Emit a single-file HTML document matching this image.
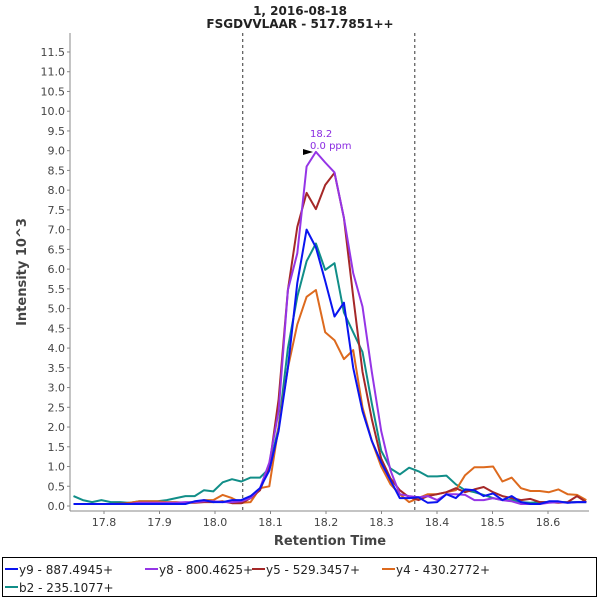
<!DOCTYPE html>
<html><head><meta charset="utf-8"><style>
body{margin:0;background:#fff;font-family:"Liberation Sans","DejaVu Sans",sans-serif}
svg text{font-family:"DejaVu Sans","Liberation Sans",sans-serif}
</style></head><body>
<svg id="chart" width="600" height="600" xmlns="http://www.w3.org/2000/svg">
<rect width="600" height="600" fill="#fff"/>
<text x="300" y="15" text-anchor="middle" font-size="12" font-weight="bold" fill="#222">1, 2016-08-18</text>
<text x="300" y="28" text-anchor="middle" font-size="12" font-weight="bold" fill="#222">FSGDVVLAAR - 517.7851++</text>
<g id="grid"></g>
<g id="series"></g>
<g id="axes"></g>
<text transform="translate(26,272) rotate(-90)" text-anchor="middle" font-size="13" font-weight="bold" fill="#444">Intensity 10^3</text>
<text x="330" y="545" text-anchor="middle" font-size="13" font-weight="bold" fill="#444">Retention Time</text>
<g>
<text x="310" y="137" font-size="10" fill="#8a2be2">18.2</text>
<text x="310" y="149" font-size="10" fill="#8a2be2">0.0 ppm</text>
<polygon points="303,149 313,152 303,155" fill="#000"/>
</g>
<rect x="2.5" y="557.5" width="594" height="39" fill="none" stroke="#000"/>
<g id="legend"></g>
</svg>
<script>
const t0 = 17.745, dt = 0.0168;
const seriesNames = ["y9 - 887.4945+","y8 - 800.4625+","y5 - 529.3457+","y4 - 430.2772+","b2 - 235.1077+"];
const seriesColors = ["#0a14f0","#9535e6","#a52828","#dd6a1e","#118e88"];
const y9 = [0.05,0.05,0.05,0.05,0.05,0.05,0.05,0.05,0.05,0.05,0.05,0.05,0.05,0.12,0.15,0.1,0.1,0.15,0.15,0.25,0.45,0.9,1.9,3.5,5.65,7.0,6.55,5.7,4.8,5.15,3.5,2.4,1.65,1.1,0.65,0.2,0.2,0.22,0.08,0.1,0.3,0.2,0.42,0.4,0.25,0.32,0.15,0.25,0.1,0.05,0.05,0.12,0.12,0.08,0.1,0.1];
const y8 = [0.05,0.05,0.05,0.05,0.05,0.05,0.05,0.08,0.08,0.08,0.08,0.08,0.1,0.1,0.12,0.12,0.1,0.1,0.12,0.2,0.45,1.1,2.4,5.47,6.4,8.6,8.97,8.7,8.45,7.3,5.9,5.05,3.4,1.9,0.9,0.3,0.25,0.22,0.25,0.15,0.3,0.3,0.28,0.15,0.15,0.2,0.15,0.12,0.05,0.05,0.05,0.08,0.1,0.08,0.1,0.1];
const y5 = [0.05,0.05,0.05,0.05,0.05,0.06,0.06,0.08,0.08,0.08,0.06,0.06,0.08,0.08,0.1,0.1,0.12,0.07,0.07,0.2,0.4,1.0,2.7,5.47,7.07,7.93,7.52,8.13,8.44,7.3,5.3,3.4,2.2,1.2,0.7,0.4,0.22,0.15,0.25,0.3,0.35,0.45,0.35,0.42,0.48,0.35,0.25,0.2,0.15,0.18,0.1,0.1,0.08,0.1,0.25,0.1];
const y4 = [0.05,0.05,0.05,0.05,0.05,0.05,0.08,0.12,0.12,0.12,0.1,0.1,0.08,0.1,0.15,0.15,0.28,0.2,0.08,0.1,0.45,0.5,2.0,3.5,4.6,5.3,5.47,4.4,4.2,3.72,3.95,2.5,1.65,1.0,0.55,0.3,0.1,0.2,0.3,0.3,0.35,0.4,0.78,0.98,0.98,1.0,0.62,0.72,0.45,0.38,0.38,0.35,0.42,0.3,0.28,0.15];
const b2 = [0.25,0.15,0.1,0.15,0.1,0.1,0.08,0.12,0.12,0.12,0.15,0.2,0.25,0.25,0.4,0.37,0.6,0.68,0.62,0.72,0.72,0.95,2.0,4.0,5.3,6.2,6.65,5.98,6.15,4.9,4.4,3.9,2.6,1.4,0.95,0.8,0.97,0.88,0.75,0.75,0.77,0.55,0.4,0.35,0.28,0.2,0.15,0.15,0.1,0.08,0.1,0.1,0.1,0.1,0.1,0.1];
const allSeries = [y9,y8,y5,y4,b2];
const xTicks = [17.8,17.9,18.0,18.1,18.2,18.3,18.4,18.5,18.6];
const yTicks = [0,0.5,1,1.5,2,2.5,3,3.5,4,4.5,5,5.5,6,6.5,7,7.5,8,8.5,9,9.5,10,10.5,11,11.5];
const markerLines = [18.05,18.36];

const L=70,R=589,T=33,B=511;
const xs = t => 104 + (t-17.8)*555;
const ys = v => 506 - v*39.48;
const NS="http://www.w3.org/2000/svg";
function mk(tag,parent){const e=document.createElementNS(NS,tag);parent.appendChild(e);return e;}
const axes=document.getElementById('axes'), grid=document.getElementById('grid'), sg=document.getElementById('series'), lg=document.getElementById('legend');

markerLines.forEach(m=>{
  const l=mk('line',grid);
  
  
  l.setAttribute('x1',xs(m));l.setAttribute('x2',xs(m));l.setAttribute('y1',T);l.setAttribute('y2',B);
  l.setAttribute('stroke','#333');l.setAttribute('stroke-dasharray','3,3');
});

for(let s=allSeries.length-1;s>=0;s--){
  const vals=allSeries[s];
  const pts=vals.map((v,i)=>xs(t0+i*dt).toFixed(1)+','+ys(v).toFixed(1)).join(' ');
  const p=mk('polyline',sg);
  
  
  p.setAttribute('points',pts);p.setAttribute('fill','none');
  p.setAttribute('stroke',seriesColors[s]);p.setAttribute('stroke-width','2');
  p.setAttribute('stroke-linejoin','round');
}
const m1=mk('rect',sg);m1.setAttribute('x',0);m1.setAttribute('y',T);m1.setAttribute('width',L);m1.setAttribute('height',B-T);m1.setAttribute('fill','#fff');
const m2=mk('rect',sg);m2.setAttribute('x',R);m2.setAttribute('y',T);m2.setAttribute('width',600-R);m2.setAttribute('height',B-T);m2.setAttribute('fill','#fff');

const ya=mk('line',axes);


ya.setAttribute('x1',L);ya.setAttribute('x2',L);ya.setAttribute('y1',T);ya.setAttribute('y2',B);ya.setAttribute('stroke','#888');
const xa=mk('line',axes);


xa.setAttribute('x1',L);xa.setAttribute('x2',R);xa.setAttribute('y1',B);xa.setAttribute('y2',B);xa.setAttribute('stroke','#888');

yTicks.forEach(v=>{
  const y=ys(v);
  const tk=mk('line',axes);tk.setAttribute('x1',L-3);tk.setAttribute('x2',L);tk.setAttribute('y1',y);tk.setAttribute('y2',y);tk.setAttribute('stroke','#888');
  const tx=mk('text',axes);
  
  
  tx.setAttribute('x',L-5);tx.setAttribute('y',y+4);tx.setAttribute('text-anchor','end');tx.setAttribute('font-size','11');tx.setAttribute('fill','#444');
  tx.textContent=v.toFixed(1);
});
xTicks.forEach(v=>{
  const x=xs(v);
  const tk=mk('line',axes);tk.setAttribute('x1',x);tk.setAttribute('x2',x);tk.setAttribute('y1',B);tk.setAttribute('y2',B+3);tk.setAttribute('stroke','#888');
  const tx=mk('text',axes);
  
  
  tx.setAttribute('x',x);tx.setAttribute('y',B+15);tx.setAttribute('text-anchor','middle');tx.setAttribute('font-size','11');tx.setAttribute('fill','#444');
  tx.textContent=v.toFixed(1);
});

const legPos=[[5,574],[145,574],[252,574],[382,574],[5,592]];
seriesNames.forEach((n,i)=>{
  const [x,y]=legPos[i];
  const g=mk('g',lg);
  
  
  const l=mk('line',g);l.setAttribute('x1',x);l.setAttribute('x2',x+13);l.setAttribute('y1',y-5);l.setAttribute('y2',y-5);l.setAttribute('stroke',seriesColors[i]);l.setAttribute('stroke-width','2');
  const t=mk('text',g);t.setAttribute('x',x+14);t.setAttribute('y',y);t.setAttribute('font-size','12');t.setAttribute('fill','#222');t.textContent=n;
});
</script>
</body></html>
